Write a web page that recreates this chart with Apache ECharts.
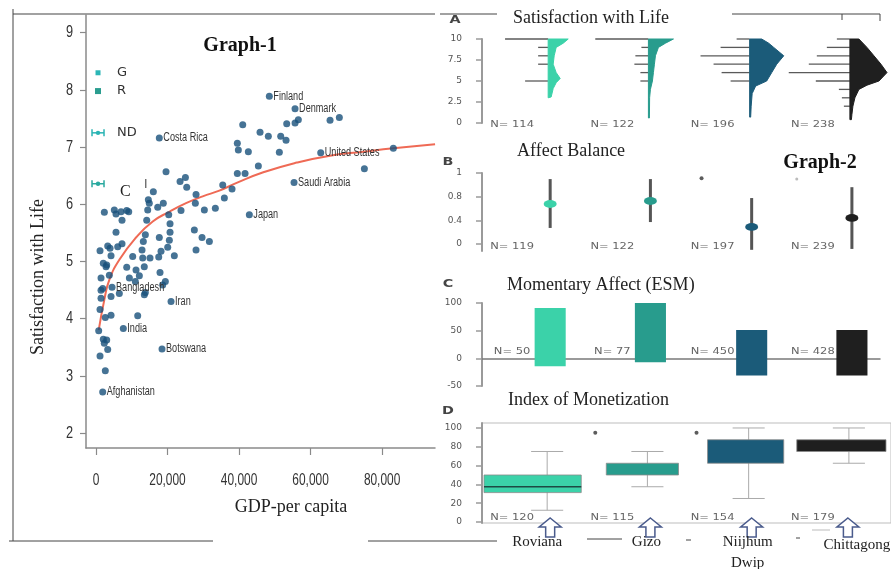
<!DOCTYPE html>
<html><head><meta charset="utf-8">
<script src="https://cdn.jsdelivr.net/npm/echarts@6/dist/echarts.min.js"></script>
<style>html,body{margin:0;padding:0;background:#fff}#c{width:891px;height:569px}</style>
</head><body><div id="c"></div>
<script>
// ================= Graph-1 data =================
const labeledCountries = ['Finland','Denmark','Costa Rica','United States','Saudi Arabia','Japan','Bangladesh','Iran','India','Botswana','Afghanistan'];
const labeledGDP = [48470,55660,17700,62840,55380,42880,4480,20980,7640,18460,1870];
const labeledSWL = [7.89,7.67,7.16,6.90,6.38,5.82,4.55,4.30,3.83,3.47,2.72];
const otherGDP = [55660,56580,53330,65450,68050,41030,45870,48190,51650,53140,39520,39800,42600,51270,83150,75050,45400,39520,41680,
  19580,23500,25000,25370,16030,27970,27780,35440,35890,38040,30300,33370,23770,14900,14460,17260,18820,14180,14630,
  20330,20700,20700,20510,27500,29650,31700,27970,13800,13230,17700,20050,18180,17540,21900,12870,13060,13500,15100,
  10260,11190,8590,12120,9330,11000,17900,19390,18650,2330,5120,5590,6990,8580,9150,7270,5590,3270,3920,6070,7270,
  1120,2040,2990,2800,4200,1400,3720,1400,4200,1870,1400,6520,13510,13790,1120,2600,4200,11660,750,2040,2990,2320,3270,1120,2600];
const otherSWL = [7.42,7.48,7.41,7.47,7.52,7.39,7.26,7.19,7.19,7.12,7.07,6.95,6.92,6.91,6.98,6.62,6.67,6.54,6.54,
  6.57,6.40,6.47,6.30,6.22,6.17,6.02,6.34,6.11,6.27,5.90,5.93,5.89,6.02,5.90,5.95,6.02,5.72,6.08,
  5.82,5.66,5.51,5.37,5.55,5.42,5.35,5.20,5.47,5.35,5.42,5.25,5.18,5.08,5.10,5.20,5.06,4.91,5.06,
  5.09,4.85,4.90,4.75,4.71,4.65,4.81,4.65,4.59,5.86,5.90,5.83,5.87,5.89,5.87,5.72,5.51,5.27,5.23,5.26,5.31,
  5.19,4.97,4.94,4.91,5.10,4.71,4.76,4.50,4.39,4.53,4.36,4.44,4.42,4.46,4.16,4.02,4.06,4.05,3.79,3.64,3.63,3.57,3.46,3.35,3.09];
const trendGDP = [755,2320,3720,6520,11190,15860,20500,25170,29840,34490,39160,46790,56140,65450,74770,83150,94820];
const trendSWL = [3.80,4.33,4.68,5.03,5.42,5.70,5.87,6.02,6.14,6.24,6.37,6.56,6.73,6.85,6.92,6.98,7.05];
const g1XTicks = [0,20000,40000,60000,80000];
const g1YTicks = [2,3,4,5,6,7,8,9];
const g1KeyNames = ['G','R','ND','C'];
const g1KeyGDP = [560,560,560,560];
const g1KeySWL = [8.30,7.98,7.25,6.36];

// ================= Graph-2 data =================
const sites = ['Roviana','Gizo','Niijhum\nDwip','Chittagong'];
// A: Satisfaction with Life
const aTicks = [0,2.5,5,7.5,10];
const aLevels = [10,9,8,7,6,5,4,3,2];
const aHist = [[43,10,10,10,0,23,0,0,0],[53,7,13,14,8,8,0,0,0],[13,29,49,36,28,19,0,0,0],[13,23,33,41,61,34,11,8,6]];
const aDensity = [
  [[10,20],[9.5,15],[9,8],[8,6],[7,5],[6,8],[5.3,12],[4.8,8],[4.1,5],[3.1,3],[3.0,0]],
  [[10,25],[9.5,17],[9,10],[8,7],[7,6],[6,5],[5,4],[4,2],[3,1.2],[0.6,1],[0.6,0]],
  [[10,12],[9.5,19],[9,24],[8,34],[7,27],[6,22],[5,17],[4.4,6],[3.5,2.5],[2,1.5],[0.7,1],[0.7,0]],
  [[10,9],[9,17],[8,24],[7,31],[6,37],[5,29],[4.5,17],[4,9],[3,5],[2,3],[1,2],[0.4,1.5],[0.4,0]]];
const aN = [114,122,196,238];
const aOutliers = [[2,10.2],[3,10.3]];
// B: Affect Balance
const bTicks = [0,0.4,0.8,1.2];
const bTickLabels = ['0','0.4','0.8','1'];
const bMean = [0.675,0.726,0.287,0.44];
const bLow = [0.27,0.37,-0.10,-0.085];
const bHigh = [1.097,1.097,0.776,0.96];
const bN = [119,122,197,239];
const bOutliers = [[2,1.11]];
const bFaintOutliers = [[3,1.10]];
// C: Momentary Affect (ESM)
const cTicks = [-50,0,50,100];
const cLow = [-14.5,-7,-31,-31];
const cHigh = [91,100,51,51];
const cN = [50,77,450,428];
// D: Index of Monetization
const dTicks = [0,20,40,60,80,100];
const dMin = [12.5,37.5,25,62.5];
const dQ1 = [31.25,50,62.5,75];
const dMed = [37.5,62.5,87.5,87.5];
const dQ3 = [50,62.5,87.5,87.5];
const dMax = [75,75,100,100];
const dN = [120,115,154,179];
const dOutliers = [[1,95],[2,95]];

// ================= layout / style =================
const COLORS = ['#3bd2a9','#289c8d','#1b5b79','#1f1f1f'];
const CENTER = [0.68,1.68,2.69,3.69];          // group centre on the panel x scale
const BOX_EXT = [[-0.66,0.31],[-0.44,0.28],[-0.44,0.32],[-0.55,0.34]];
const SERIF = "'Liberation Serif','Times New Roman',serif";
const SANS = "'DejaVu Sans','Liberation Sans',sans-serif";
const ARIAL = "'Liberation Sans',Arial,sans-serif";
const HS = 0.01, DS = 0.01;  // histogram/density widths -> x units
const idx4 = [[0,0],[1,0],[2,0],[3,0]];
const DOT = '#18507a';

function panelY(gi, min, max, ticks, fmt){
  return {gridIndex:gi, type:'value', min:min, max:max,
    axisLine:{show:true, onZero:false, lineStyle:{color:'#9a9a9a', width:2}},
    axisTick:{show:true, length:6, customValues:ticks, lineStyle:{color:'#9a9a9a', width:1.5}},
    axisLabel:{customValues:ticks, margin:20, fontSize:9, color:'#555', fontFamily:SANS, formatter:fmt},
    splitLine:{show:false}};
}
function nSeries(gi, arr, yv){
  return {type:'custom', xAxisIndex:gi, yAxisIndex:gi, data:idx4, z:5,
    renderItem:(p, api)=>{
      const i = p.dataIndex; const pt = api.coord([i+0.3, yv]);
      return {type:'text', x:pt[0], y:pt[1], scaleX:1.35,
        style:{text:'N= '+arr[i], fontSize:8.5, fontFamily:SANS, fill:'#666', align:'center', verticalAlign:'middle'}};
    }};
}

const option = {
  animation:false,
  backgroundColor:'#fff',
  grid:[
    {left:86, top:15, width:349, height:433},
    {left:482, top:39, width:409, height:84},
    {left:482, top:173, width:409, height:78},
    {left:482, top:303, width:398, height:83},
    {left:482, top:423, width:409, height:100, show:true, borderColor:'#bdbdbd', borderWidth:1}
  ],
  xAxis:[
    {gridIndex:0, type:'value', min:-2800, max:94800,
      axisLine:{show:true, onZero:false, lineStyle:{color:'#8a8a8a', width:1.5}},
      axisTick:{show:true, length:7, customValues:g1XTicks, lineStyle:{color:'#8a8a8a', width:1.2}},
      axisLabel:{show:false, customValues:g1XTicks},
      splitLine:{show:false}},
    {gridIndex:1, type:'value', min:0, max:4.08, show:false},
    {gridIndex:2, type:'value', min:0, max:4.08, show:false},
    {gridIndex:3, type:'value', min:0, max:3.97, axisLine:{show:true, onZero:true, lineStyle:{color:'#7a7a7a', width:1.5}},
      axisTick:{show:false}, axisLabel:{show:false}, splitLine:{show:false}},
    {gridIndex:4, type:'value', min:0, max:4.08, show:false}
  ],
  yAxis:[
    {gridIndex:0, type:'value', min:1.74, max:9.31,
      axisLine:{show:true, onZero:false, lineStyle:{color:'#8a8a8a', width:1.5}},
      axisTick:{show:true, length:6, customValues:g1YTicks, lineStyle:{color:'#8a8a8a', width:1.2}},
      axisLabel:{show:false, customValues:g1YTicks},
      splitLine:{show:false}},
    panelY(1, 0, 10, aTicks, v=>String(v)),
    panelY(2, -0.12, 1.2, bTicks, v=>bTickLabels[bTicks.indexOf(Number(v))] ?? ''),
    panelY(3, -50, 100, cTicks, v=>String(v)),
    panelY(4, -1.06, 105.3, dTicks, v=>String(v))
  ],
  series:[
    // ---- Graph-1 ----
    {type:'line', xAxisIndex:0, yAxisIndex:0, data:trendGDP.map((x,i)=>[x,trendSWL[i]]), smooth:true,
      showSymbol:false, lineStyle:{color:'#ef6a55', width:2}, z:2, silent:true},
    {type:'scatter', xAxisIndex:0, yAxisIndex:0, data:otherGDP.map((x,i)=>[x,otherSWL[i]]),
      symbolSize:7, itemStyle:{color:DOT}, z:3},
    {type:'scatter', xAxisIndex:0, yAxisIndex:0, z:4,
      data:labeledGDP.map((x,i)=>[x,labeledSWL[i]]), symbolSize:7, itemStyle:{color:DOT}},
    // country names (condensed)
    {type:'custom', xAxisIndex:0, yAxisIndex:0, z:5, data:labeledGDP.map((x,i)=>[x,labeledSWL[i]]),
      renderItem:(p, api)=>{
        const pt = api.coord([api.value(0), api.value(1)]);
        return {type:'text', x:pt[0]+4, y:pt[1], scaleX:0.76,
          style:{text:labeledCountries[p.dataIndex], fontSize:12, fontFamily:ARIAL, fill:'#333', verticalAlign:'middle'}};
      }},
    // Graph-1 tick labels (condensed)
    {type:'custom', xAxisIndex:0, yAxisIndex:0, z:5, data:g1XTicks.map(v=>[v,1.74]),
      renderItem:(p, api)=>{
        const pt = api.coord([api.value(0), api.value(1)]);
        return {type:'text', x:pt[0], y:pt[1]+32, scaleX:0.7,
          style:{text:Number(api.value(0)).toLocaleString('en-US'), fontSize:17, fontFamily:ARIAL, fill:'#333', align:'center', verticalAlign:'middle'}};
      }},
    {type:'custom', xAxisIndex:0, yAxisIndex:0, z:5, data:g1YTicks.map(v=>[-2800,v]),
      renderItem:(p, api)=>{
        const pt = api.coord([api.value(0), api.value(1)]);
        return {type:'text', x:pt[0]-13, y:pt[1], scaleX:0.75,
          style:{text:String(api.value(1)), fontSize:17, fontFamily:ARIAL, fill:'#333', align:'right', verticalAlign:'middle'}};
      }},
    // key marks G / R / ND / C
    {type:'custom', xAxisIndex:0, yAxisIndex:0, z:4, data:g1KeyGDP.map((x,i)=>[x,g1KeySWL[i]]),
      renderItem:(p, api)=>{
        const i = p.dataIndex; const pt = api.coord([api.value(0), api.value(1)]);
        const cx = pt[0], cy = pt[1]; const ch = [];
        if (i === 0) ch.push({type:'rect', shape:{x:cx-2.5, y:cy-2.5, width:5, height:5}, style:{fill:'#2bb6b6'}});
        else if (i === 1) ch.push({type:'rect', shape:{x:cx-3, y:cy-3, width:6, height:6}, style:{fill:'#2a9d8f'}});
        else {
          const col = i === 2 ? '#2ab4b4' : '#29a99f';
          ch.push({type:'line', shape:{x1:cx-6, y1:cy, x2:cx+6, y2:cy}, style:{stroke:col, lineWidth:1.5}});
          ch.push({type:'line', shape:{x1:cx-6, y1:cy-3.5, x2:cx-6, y2:cy+3.5}, style:{stroke:col, lineWidth:1.5}});
          ch.push({type:'line', shape:{x1:cx+6, y1:cy-3.5, x2:cx+6, y2:cy+3.5}, style:{stroke:col, lineWidth:1.5}});
          ch.push({type:'circle', shape:{cx:cx, cy:cy, r:2.2}, style:{fill:col}});
        }
        if (i < 3) ch.push({type:'text', x:cx+19, y:cy, style:{text:g1KeyNames[i], fontSize:13, fontFamily:SANS, fill:'#333', verticalAlign:'middle'}});
        else {
          ch.push({type:'text', x:cx+22, y:cy+8, style:{text:g1KeyNames[i], fontSize:16, fontFamily:SERIF, fill:'#222', verticalAlign:'middle'}});
          ch.push({type:'text', x:cx+46, y:cy+1, style:{text:'I', fontSize:12, fontFamily:SANS, fill:'#555', verticalAlign:'middle'}});
        }
        return {type:'group', children:ch};
      }},
    // ---- Panel A ----
    {type:'custom', xAxisIndex:1, yAxisIndex:1, data:idx4, z:3,
      renderItem:(p, api)=>{
        const i = p.dataIndex; const bx = CENTER[i]-0.02; const ch = [];
        aLevels.forEach((lv,k)=>{
          const c = aHist[i][k]; if (!c) return;
          const a = api.coord([bx - c*HS, lv]), b = api.coord([bx, lv]);
          ch.push({type:'line', shape:{x1:a[0], y1:a[1], x2:b[0], y2:b[1]}, style:{stroke:'#5a5a5a', lineWidth:1.3}});
        });
        return {type:'group', children:ch};
      }},
    {type:'custom', xAxisIndex:1, yAxisIndex:1, data:idx4, z:4,
      renderItem:(p, api)=>{
        const i = p.dataIndex; const bx = CENTER[i]-0.02; const d = aDensity[i];
        const pts = [api.coord([bx, d[0][0]])];
        d.forEach(([lv,w])=>pts.push(api.coord([bx + w*DS, lv])));
        pts.push(api.coord([bx, d[d.length-1][0]]));
        return {type:'polygon', shape:{points:pts}, style:{fill:COLORS[i], stroke:COLORS[i], lineWidth:1}};
      }},
    {type:'scatter', xAxisIndex:1, yAxisIndex:1, data:aOutliers.map(([g,v])=>[CENTER[g]-0.5, v]),
      symbolSize:4, itemStyle:{color:'#333'}},
    nSeries(1, aN, -0.25),
    // ---- Panel B ----
    {type:'custom', xAxisIndex:2, yAxisIndex:2, data:idx4, z:3,
      renderItem:(p, api)=>{
        const i = p.dataIndex; const x = CENTER[i];
        const a = api.coord([x, bHigh[i]]), b = api.coord([x, bLow[i]]), m = api.coord([x, bMean[i]]);
        return {type:'group', children:[
          {type:'line', shape:{x1:a[0], y1:a[1], x2:b[0], y2:b[1]}, style:{stroke:'#555', lineWidth:3}},
          {type:'circle', x:m[0], y:m[1], scaleY:0.6, shape:{cx:0, cy:0, r:6.5}, style:{fill:COLORS[i]}}
        ]};
      }},
    {type:'scatter', xAxisIndex:2, yAxisIndex:2, data:bOutliers.map(([g,v])=>[CENTER[g]-0.5, v]),
      symbolSize:4, itemStyle:{color:'#333'}},
    {type:'scatter', xAxisIndex:2, yAxisIndex:2, data:bFaintOutliers.map(([g,v])=>[CENTER[g]-0.55, v]),
      symbolSize:3, itemStyle:{color:'#aaa'}},
    nSeries(2, bN, -0.05),
    // ---- Panel C ----
    {type:'custom', xAxisIndex:3, yAxisIndex:3, data:idx4, z:3,
      renderItem:(p, api)=>{
        const i = p.dataIndex; const x = CENTER[i];
        const a = api.coord([x-0.155, cHigh[i]]), b = api.coord([x+0.155, cLow[i]]);
        return {type:'rect', shape:{x:a[0], y:a[1], width:b[0]-a[0], height:b[1]-a[1]}, style:{fill:COLORS[i]}};
      }},
    nSeries(3, cN, 12),
    // ---- Panel D ----
    {type:'custom', xAxisIndex:4, yAxisIndex:4, data:idx4, z:3,
      renderItem:(p, api)=>{
        const i = p.dataIndex; const x = CENTER[i]-0.03; const c = COLORS[i]; const ch = [];
        const top = api.coord([x, dMax[i]]), bot = api.coord([x, dMin[i]]);
        const capL = api.coord([x-0.16, 0])[0], capR = api.coord([x+0.16, 0])[0];
        ch.push({type:'line', shape:{x1:top[0], y1:top[1], x2:bot[0], y2:bot[1]}, style:{stroke:'#aaa', lineWidth:1}});
        ch.push({type:'line', shape:{x1:capL, y1:top[1], x2:capR, y2:top[1]}, style:{stroke:'#aaa', lineWidth:1}});
        ch.push({type:'line', shape:{x1:capL, y1:bot[1], x2:capR, y2:bot[1]}, style:{stroke:'#aaa', lineWidth:1}});
        const q3 = api.coord([CENTER[i]+BOX_EXT[i][0], dQ3[i]]), q1 = api.coord([CENTER[i]+BOX_EXT[i][1], dQ1[i]]);
        ch.push({type:'rect', shape:{x:q3[0], y:q3[1], width:q1[0]-q3[0], height:q1[1]-q3[1]}, style:{fill:c, stroke:'#8a8a8a', lineWidth:0.8}});
        if (dMed[i] > dQ1[i] && dMed[i] < dQ3[i]) {
          const my = api.coord([x, dMed[i]])[1];
          ch.push({type:'line', shape:{x1:q3[0], y1:my, x2:q1[0], y2:my}, style:{stroke:'#1d4a44', lineWidth:1.6}});
        }
        return {type:'group', children:ch};
      }},
    {type:'scatter', xAxisIndex:4, yAxisIndex:4, data:dOutliers.map(([g,v])=>[CENTER[g]-0.55, v]),
      symbolSize:4, itemStyle:{color:'#333'}},
    nSeries(4, dN, 5),
    // arrows and site names
    {type:'custom', xAxisIndex:4, yAxisIndex:4, data:idx4, z:6,
      renderItem:(p, api)=>{
        const i = p.dataIndex; const base = api.coord([CENTER[i], 0]);
        const ax = base[0] + (i===3 ? -4 : 0), ay = base[1] - 4;
        const ch = [{type:'polygon', shape:{points:[[ax,ay],[ax+11,ay+9],[ax+4.5,ay+9],[ax+4.5,ay+19],[ax-4.5,ay+19],[ax-4.5,ay+9],[ax-11,ay+9]]},
          style:{fill:'#fff', stroke:'#4a5b8c', lineWidth:1.5}}];
        const offs = [[-13,10],[-4,10],[-4,10],[5,13]];
        ch.push({type:'text', x:base[0]+offs[i][0], y:base[1]+offs[i][1],
          style:{text:sites[i], fontSize:15, fontFamily:SERIF, fill:'#222', align:'center', verticalAlign:'top', lineHeight:21}});
        return {type:'group', children:ch};
      }}
  ],
  graphic:[
    // frame lines
    {type:'line', shape:{x1:13, y1:9, x2:13, y2:541}, style:{stroke:'#444', lineWidth:1}},
    {type:'line', shape:{x1:13, y1:14, x2:435, y2:14}, style:{stroke:'#444', lineWidth:1.2}},
    {type:'line', shape:{x1:9, y1:541, x2:213, y2:541}, style:{stroke:'#444', lineWidth:1}},
    {type:'line', shape:{x1:368, y1:541, x2:497, y2:541}, style:{stroke:'#444', lineWidth:1}},
    {type:'line', shape:{x1:440, y1:14, x2:497, y2:14}, style:{stroke:'#444', lineWidth:1}},
    {type:'line', shape:{x1:732, y1:14, x2:880, y2:14}, style:{stroke:'#444', lineWidth:1}},
    {type:'line', shape:{x1:842, y1:14, x2:842, y2:20}, style:{stroke:'#444', lineWidth:1}},
    {type:'line', shape:{x1:880, y1:14, x2:880, y2:21}, style:{stroke:'#444', lineWidth:1}},
    {type:'line', shape:{x1:587, y1:539, x2:622, y2:539}, style:{stroke:'#444', lineWidth:1}},
    {type:'line', shape:{x1:686, y1:540, x2:691, y2:540}, style:{stroke:'#444', lineWidth:1}},
    {type:'line', shape:{x1:796, y1:538, x2:800, y2:538}, style:{stroke:'#444', lineWidth:1}},
    {type:'line', shape:{x1:812, y1:530, x2:830, y2:530}, style:{stroke:'#bbb', lineWidth:1}},
    // titles
    {type:'text', x:240, y:46, style:{text:'Graph-1', font:"bold 20px 'Liberation Serif', serif", fill:'#111', align:'center', verticalAlign:'middle'}},
    {type:'text', x:820, y:163, style:{text:'Graph-2', font:"bold 20px 'Liberation Serif', serif", fill:'#111', align:'center', verticalAlign:'middle'}},
    {type:'text', x:291, y:507, style:{text:'GDP-per capita', font:"18px 'Liberation Serif', serif", fill:'#222', align:'center', verticalAlign:'middle'}},
    {type:'text', x:38, y:277, rotation:Math.PI/2, style:{text:'Satisfaction with Life', font:"18px 'Liberation Serif', serif", fill:'#222', align:'center', verticalAlign:'middle'}},
    {type:'text', x:513, y:18, style:{text:'Satisfaction with Life', font:"18px 'Liberation Serif', serif", fill:'#222', verticalAlign:'middle'}},
    {type:'text', x:517, y:151, style:{text:'Affect Balance', font:"18px 'Liberation Serif', serif", fill:'#222', verticalAlign:'middle'}},
    {type:'text', x:507, y:285, style:{text:'Momentary Affect (ESM)', font:"18px 'Liberation Serif', serif", fill:'#222', verticalAlign:'middle'}},
    {type:'text', x:508, y:400, style:{text:'Index of Monetization', font:"18px 'Liberation Serif', serif", fill:'#222', verticalAlign:'middle'}},
    {type:'text', x:455, y:20, scaleX:1.3, style:{text:'A', font:"bold 11px 'DejaVu Sans', sans-serif", fill:'#444', align:'center', verticalAlign:'middle'}},
    {type:'text', x:448, y:162, scaleX:1.3, style:{text:'B', font:"bold 11px 'DejaVu Sans', sans-serif", fill:'#444', align:'center', verticalAlign:'middle'}},
    {type:'text', x:448, y:284, scaleX:1.3, style:{text:'C', font:"bold 11px 'DejaVu Sans', sans-serif", fill:'#444', align:'center', verticalAlign:'middle'}},
    {type:'text', x:448, y:411, scaleX:1.3, style:{text:'D', font:"bold 11px 'DejaVu Sans', sans-serif", fill:'#444', align:'center', verticalAlign:'middle'}}
  ]
};
const chart = echarts.init(document.getElementById('c'));
chart.setOption(option);
</script>
</body></html>
